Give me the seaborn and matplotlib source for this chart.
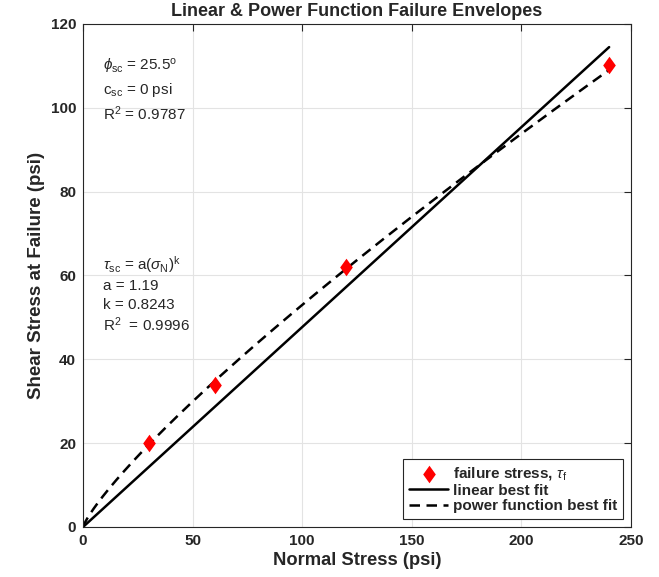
import numpy as np
import pandas as pd
import matplotlib
matplotlib.use("Agg")
import matplotlib.pyplot as plt
import seaborn as sns

# Data
normal_stress = [30, 60, 120, 240]
shear_stress = [20.1, 33.9, 61.9, 110.2]
phi_deg = 25.5
a_coef = 1.19
k_exp = 0.8243
fit_x_max = 240
x_ticks = [0, 50, 100, 150, 200, 250]
y_ticks = [0, 20, 40, 60, 80, 100, 120]

sns.set_theme(style="whitegrid")
plt.rcParams['font.family'] = ['Liberation Sans', 'DejaVu Sans']
plt.rcParams['mathtext.fontset'] = 'custom'
plt.rcParams['mathtext.rm'] = 'Liberation Sans'
plt.rcParams['mathtext.it'] = 'Liberation Sans:italic'
plt.rcParams['mathtext.bf'] = 'Liberation Sans:bold'

fig = plt.figure(figsize=(6.59, 5.77), dpi=100)
ax = fig.add_axes([0.126, 0.0867, 0.8316, 0.8718])

xs = np.linspace(0, fit_x_max, 400)
fits = pd.DataFrame({
    "x": xs,
    "linear": np.tan(np.radians(phi_deg)) * xs,
    "power": a_coef * xs ** k_exp,
})
pts = pd.DataFrame({"x": normal_stress, "y": shear_stress})

diamond = [(0, 1), (0.72, 0), (0, -1), (-0.72, 0), (0, 1)]
sns.scatterplot(data=pts, x="x", y="y", marker=diamond, color="#ff0000", s=160,
                edgecolor="#ff0000", linewidth=0, ax=ax, zorder=3,
                label=r"failure stress, $\tau_{\mathrm{f}}$")
sns.lineplot(data=fits, x="x", y="linear", color="black", lw=1.8, ax=ax,
             label="linear best fit", zorder=2)
sns.lineplot(data=fits, x="x", y="power", color="black", lw=1.8, ax=ax,
             label="power function best fit", zorder=2)
ax.lines[-1].set_dashes((4.2, 2.6))

ax.set_xlim(0, 250)
ax.set_ylim(0, 120)
ax.set_xticks(x_ticks)
ax.set_yticks(y_ticks)
ax.grid(True, color="#e3e3e3", lw=0.8)
ax.set_facecolor("white")
for s in ax.spines.values():
    s.set_color("#262626")
    s.set_linewidth(0.8)
    s.set_visible(True)
ax.tick_params(direction="in", length=5, width=0.8, top=True, right=True,
               colors="#262626", labelsize=11, pad=5)
for lab in ax.get_xticklabels() + ax.get_yticklabels():
    lab.set_fontweight("bold")
    lab.set_color("#262626")

ax.set_xlabel("Normal Stress (psi)", fontsize=13.2, fontweight="bold", color="#262626", labelpad=3)
ax.set_ylabel("Shear Stress at Failure (psi)", fontsize=13.5, fontweight="bold", color="#262626", labelpad=4)
ax.set_title("Linear & Power Function Failure Envelopes", fontsize=13, fontweight="bold", pad=6)

fs = 11
ax.text(9, 109.8, r"$\phi_{\mathrm{sc}}$ = 25.5$^{\mathrm{o}}$", fontsize=fs, va="center")
ax.text(9, 104.2, r"c$_{\mathrm{sc}}$ = 0 psi", fontsize=fs, va="center")
ax.text(9, 98.6, r"R$^2$ = 0.9787", fontsize=fs, va="center")

ax.text(9, 62.5, r"$\tau_{\mathrm{sc}}$ = a($\sigma_{\mathrm{N}}$)$^{\mathrm{k}}$", fontsize=fs, va="center")
ax.text(9, 57.6, r"a = 1.19", fontsize=fs, va="center")
ax.text(9, 53.0, r"k = 0.8243", fontsize=fs, va="center")
ax.text(9, 48.3, r"R$^2$  = 0.9996", fontsize=fs, va="center")

leg = ax.legend(loc="lower right", frameon=True, fancybox=False, framealpha=1,
                edgecolor="#262626", prop={"weight": "bold", "size": 11},
                handlelength=2.6, handletextpad=0.3, borderpad=0.4,
                labelspacing=0.1, borderaxespad=0.5)
leg.get_frame().set_linewidth(0.8)

fig.savefig("out.png", dpi=100, facecolor="white")
